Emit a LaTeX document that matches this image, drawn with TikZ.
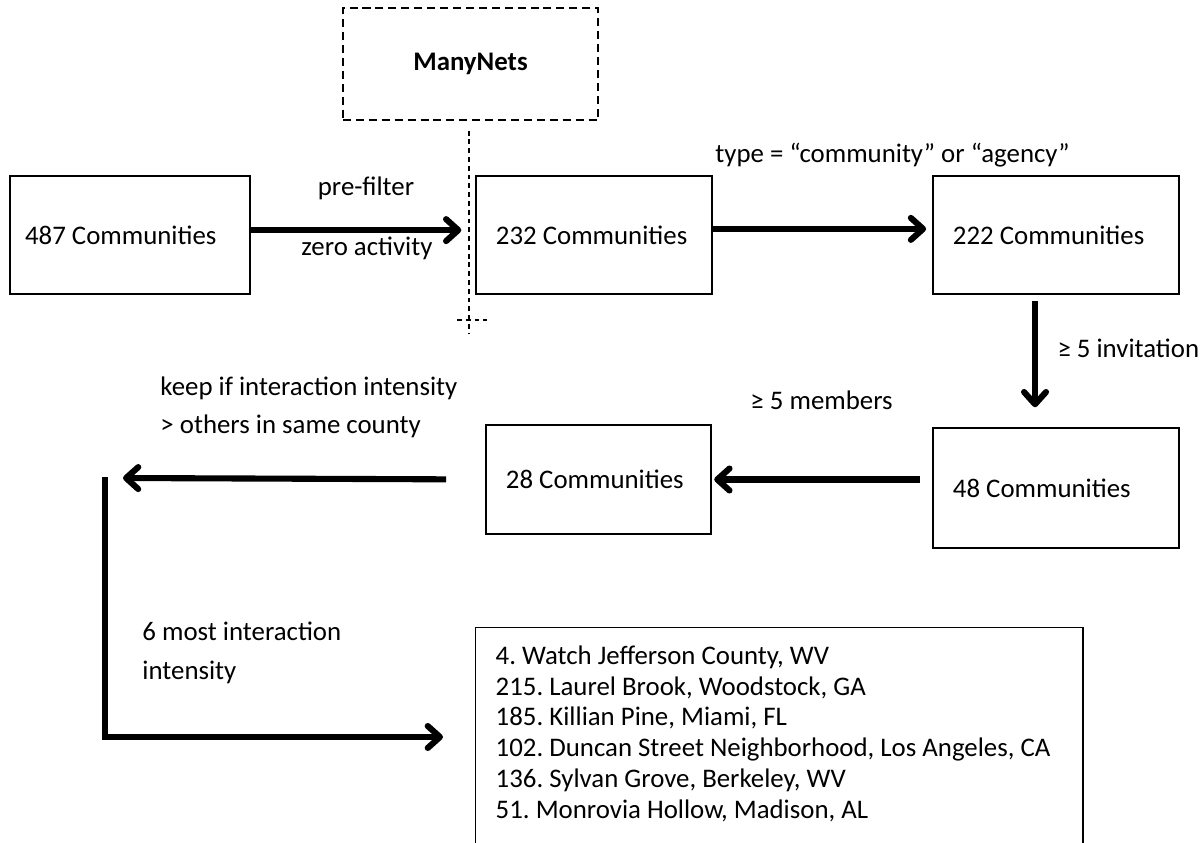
\documentclass[tikz,border=0pt]{standalone}
\usepackage{fontspec}
\setmainfont{Carlito}
\usetikzlibrary{arrows.meta, positioning}

% natural word spaces inside boxes with a text width
\newcommand\wordsp{\frenchspacing\spaceskip=0pt\xspaceskip=0pt\relax}

\tikzset{
  commbox/.style={draw, line width=0.6pt, align=left, inner xsep=8.2pt, inner ysep=0pt,
    text width=#1, minimum height=48.4pt},
  listbox/.style={draw, line width=0.6pt, align=left, inner xsep=8.2pt, inner ysep=7.4pt,
    text width=232.5pt, text depth=110pt, font=\fontsize{11}{12.6}\selectfont},
  toolbox/.style={draw, line width=0.8pt, dash pattern=on 3.3pt off 2pt,
    minimum width=104.6pt, minimum height=45.9pt},
  cutline/.style={line width=0.5pt, dash pattern=on 2pt off 1.6pt},
  flow/.style={line width=2.5pt, -{Straight Barb[length=5pt, width=9pt, round]}},
  lab/.style={inner sep=0pt}
}

\begin{document}
\begin{tikzpicture}[x=0.41pt, y=-0.41pt, font=\fontsize{11}{13}\selectfont]
    \useasboundingbox (0,0) rectangle (1204,843);

    % Community counts
    \node[commbox=86pt, inner xsep=6.2pt] (c487) at (130,235) {\wordsp 487~Communities};
    \node[commbox=80.4pt] (c232) at (594,235) {\wordsp 232~Communities};
    \node[commbox=84.5pt] (c222) at (1056,235) {\wordsp 222~Communities};
    \node[commbox=84.5pt, minimum height=49.2pt] (c48) at (1056,488) {\wordsp 48~Communities};
    \node[commbox=75.9pt, minimum height=44.7pt] (c28) at (598.5,479.5) {\wordsp 28~Communities};

    % ManyNets and its cut
    \node[toolbox] (mnets) at (470.5,64) {\textbf{ManyNets}};
    \coordinate (cutend) at (469,333);
    \draw[cutline] ([yshift=-4pt]mnets.south -| cutend) -- (cutend);
    \draw[cutline] (457,320) -- (487,320);

    % Filters
    \draw[flow, shorten >=5.7pt] ([yshift=2pt]c487.east) -- ([yshift=2pt]c232.west);
    \node[lab] (prefilt) at (366,188) {pre-filter};
    \node[lab] (zeroact) at (367,248) {zero activity};

    \draw[flow, shorten >=2.5pt] ([yshift=2.5pt]c232.east) -- ([yshift=2.5pt]c222.west);
    \node[lab, anchor=west] (typelab) at (715,155) {type = “community” or “agency”};

    \draw[flow, shorten <=2.5pt, shorten >=8.2pt] ([xshift=-8.6pt]c222.south) -- ([xshift=-8.6pt]c48.north);
    \node[lab, anchor=west] (invlab) at (1057,348) {≥ 5 invitation};

    \draw[flow, shorten <=5pt, shorten >=1pt] (c48.west |- c28.east) -- (c28.east);
    \node[lab, anchor=west] (memlab) at (750,400) {≥ 5 members};

    \coordinate (keepend) at (123,478);
    \draw[flow, shorten <=16pt] (c28.west) -- (keepend);
    \node[lab, anchor=west, align=left, font=\fontsize{11}{15.6}\selectfont] (keeplab) at (160,407)
        {keep if interaction intensity\\> others in same county};

    % Final selection
    \coordinate (turn) at (105,477);
    \coordinate (listin) at (443,737);
    \draw[flow] (turn) |- (listin);
    \node[lab, anchor=west, align=left, font=\fontsize{11}{16}\selectfont] (mostlab) at (142,653)
        {6 most interaction\\intensity};

    \node[listbox, anchor=north west] (top6) at (475,627) {\wordsp 4. Watch Jefferson County, WV\\
        215. Laurel Brook, Woodstock, GA\\
        185. Killian Pine, Miami, FL\\
        102. Duncan Street Neighborhood, Los Angeles, CA\\
        136. Sylvan Grove, Berkeley, WV\\
        51. Monrovia Hollow, Madison, AL};
\end{tikzpicture}
\end{document}
